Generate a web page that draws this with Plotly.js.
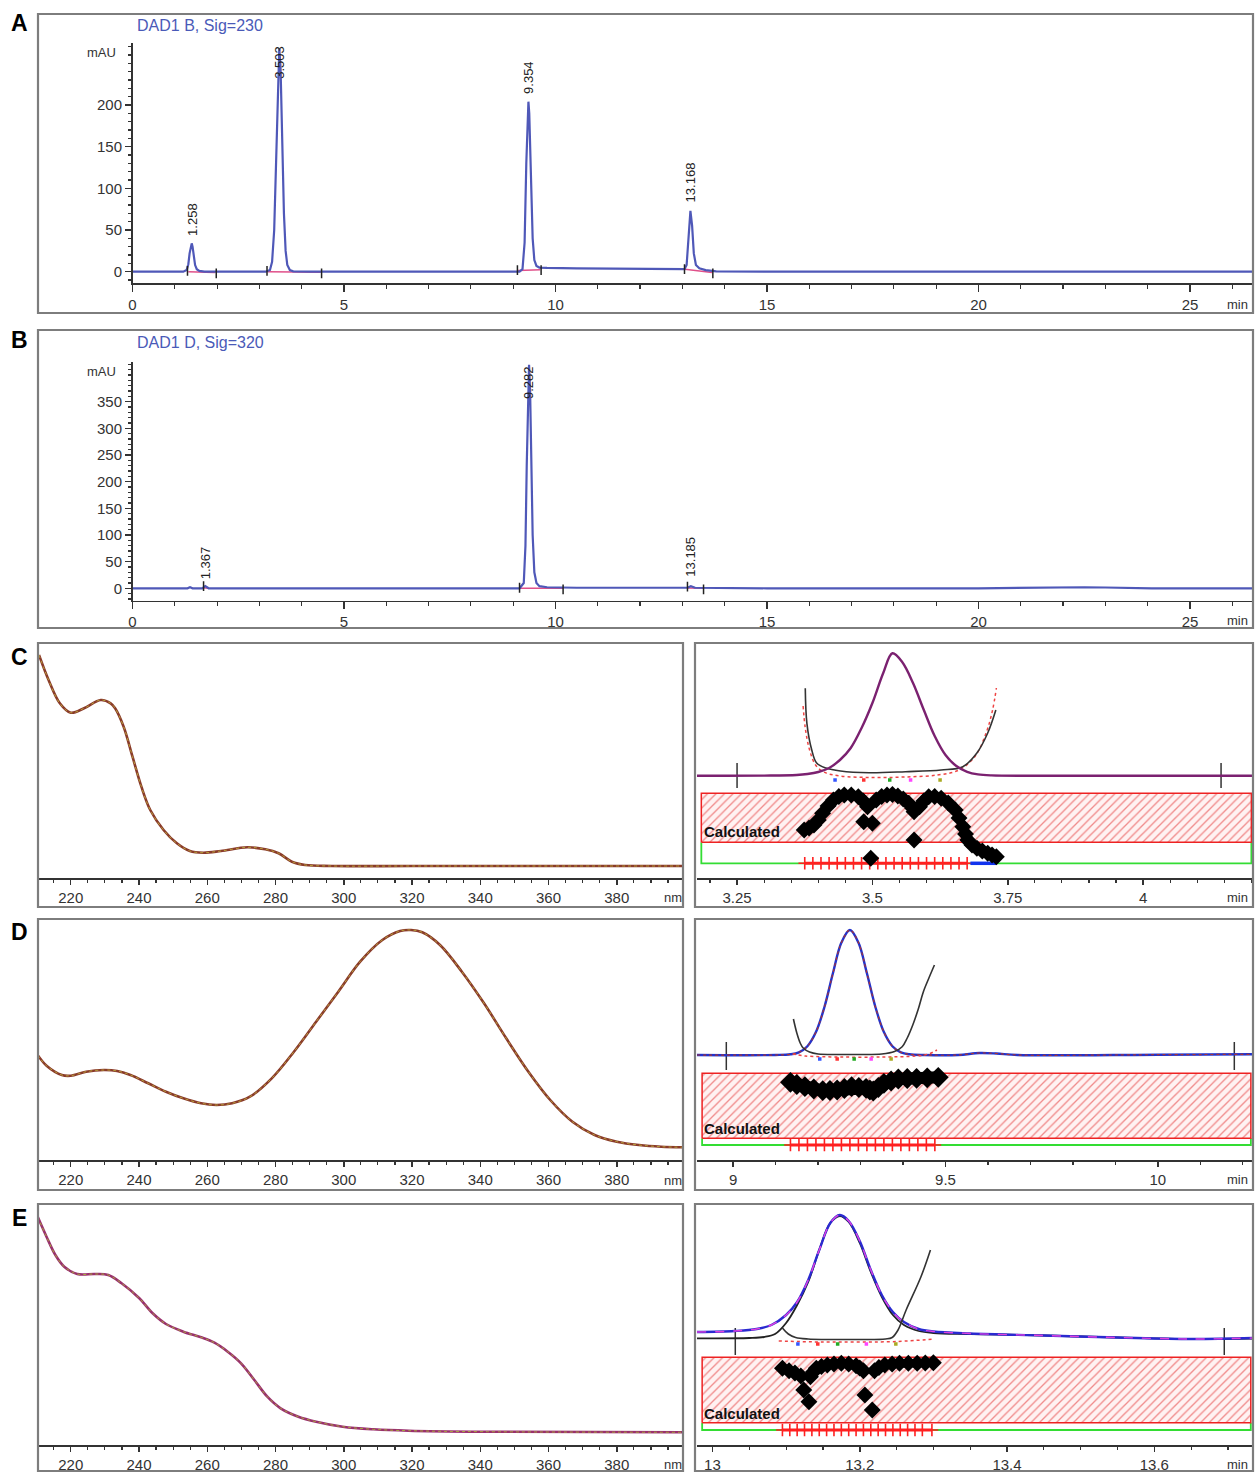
<!DOCTYPE html>
<html><head><meta charset="utf-8">
<script src="https://cdn.plot.ly/plotly-3.0.1.min.js"></script>
<style>html,body{margin:0;padding:0;background:#fff}#chart{width:1255px;height:1472px}</style>
</head><body><div id="chart"></div><script>
// ---------------- DATA ----------------
// Panel A: chromatogram DAD1 B, Sig=230 (time min, mAU)
const timeA = [0,1.20,1.28,1.32,1.35,1.38,1.40,1.42,1.45,1.48,1.52,1.58,1.70,2.5,3.15,3.25,3.30,3.35,3.40,3.44,3.47,3.50,3.54,3.58,3.62,3.66,3.72,3.80,4.2,9.15,9.22,9.27,9.31,9.34,9.36,9.38,9.42,9.46,9.50,9.55,9.62,9.8,10.5,11.5,12.5,13.05,13.10,13.15,13.19,13.23,13.27,13.32,13.40,13.55,13.8,15,20,26.49];
const signalA = [0,0,2,9,22,31,34,30,18,8,3,1,0,0,0,2,12,50,150,240,268,245,160,70,25,8,2,0.5,0,0,3,35,130,195,204,190,110,40,14,7,5,4.5,4,3.5,3,3,8,45,73,55,22,8,4,2,0.5,0,0,0];
const baseTimeA = [1.32,1.95,null,3.20,4.45,null,9.11,9.64,null,13.06,13.70];
const baseValA  = [0,-1,null,0,-0.5,null,1.5,2.5,null,3,-1];
const markTimeA = [1.30,1.98,3.18,4.47,9.10,9.66,13.05,13.72];
const markValA  = [1,-2,1,-2,2,2,3,-2];
const peakTextA = ['1.258','3.503','9.354','13.168'];
const peakTimeA = [1.40,3.47,9.36,13.20];
const peakLblA  = [63,251,233,107];
// Panel B: chromatogram DAD1 D, Sig=320
const timeB = [0,1.30,1.36,1.42,1.65,1.72,1.80,9.15,9.25,9.29,9.32,9.35,9.375,9.40,9.43,9.46,9.50,9.55,9.62,9.8,10.5,13.0,13.12,13.2,13.3,15,16,17,20,21,22,22.5,23,23.8,24.1,26.49];
const signalB = [0,0,2,0,0,4,0,0,10,80,230,380,419,370,230,100,30,10,4,2,1,1,1,4,1,0,0.5,0,0,1,1.5,2,1.5,1,0,0];
const baseTimeB = [1.66,1.80,null,9.16,10.18,null,13.12,13.50];
const baseValB  = [1,0,null,0,0,null,0.5,0];
const markTimeB = [1.68,9.15,10.18,13.12,13.50];
const markValB  = [4,1,-2,3,-2];
const peakTextB = ['1.367','9.282','13.185'];
const peakTimeB = [1.715,9.375,13.2];
const peakLblB  = [47,385,59];
// Spectra (wavelength nm, relative absorbance)
const wlC  = [210.7,213.5,216.8,220,223.9,228.8,231.7,233,235.5,238.1,240.7,243.3,247.2,251.1,254.9,258.8,264,271.8,277,280.9,284.8,288.7,296.5,320,360,399.4];
const absC = [223,198,174.7,165.3,169.7,178,174.7,169.7,151.3,121.3,91.3,68,48,34.7,27,25.3,27,30.7,28.7,24.7,16.3,13,12,12,12,12];
const wlD  = [210.3,213,217.4,220,224.5,229.7,233.6,237.5,242.7,247.9,253,258.2,262.7,267.3,272.5,278.9,285.4,291.9,298.4,304.8,311.3,316.5,319.7,323,328.2,334.6,341.1,347.6,354.1,360.5,367,373.5,380,386.5,393,399.4];
const absD = [105,94,85,84.3,88.3,90,89,85,76.7,68.3,61.7,56.7,55,56.7,63.3,81.7,108.3,138.3,168.3,198.3,220,229,230,227.7,215,188.3,156.7,121.7,88.3,60,38.3,25,18.3,15,13.3,12.7];
const wlE  = [210.3,212.9,215.5,218.1,221.9,227.1,231,234.9,240.1,244,247.9,253,258.2,262.1,266,269.9,273.8,277.6,281.5,286.7,291.9,299.7,308.7,319,341,399.4];
const absE = [228.3,208.3,190,178.3,171,171,170,161.7,146.7,131.7,121,113.3,107.7,102.3,93.3,81.7,65,48.3,36.7,28.3,23.3,18.3,15.7,14.3,13.3,12.7];
// Panel C right: peak purity around 3.5 min
const tSigC = [3.176,3.30,3.36,3.38,3.40,3.42,3.44,3.46,3.48,3.50,3.52,3.537,3.555,3.575,3.595,3.615,3.635,3.655,3.675,3.695,3.72,3.80,4.00,4.203];
const vSigC = [102.3,102.4,103,104,106,110,118,130,150,175,205,224.7,216,195,168,142,123,112,106.2,103.6,102.6,102.3,102.3,102.3];
const tFitC = [3.376,3.379,3.388,3.397,3.414,3.441,3.494,3.561,3.627,3.667,3.693,3.713,3.728];
const vFitC = [189.7,154.7,128,115,110,107,105.3,106.3,108,111.3,125,145,168];
const tResC = [3.372,3.376,3.384,3.395,3.41,3.44,3.50,3.56,3.62,3.66,3.69,3.71,3.722,3.729];
const vResC = [172,150,128,113,106,102,100.5,101,103,108,122,145,168,190];
const tPurC = [3.374,3.383,3.392,3.400,3.408,3.418,3.428,3.438,3.448,3.461,3.474,3.483,3.491,null,3.507,3.517,3.527,3.537,3.547,3.557,3.567,3.574,3.577,null,3.587,3.595,3.604,3.615,3.627,3.640,3.653,3.660,3.667,3.672,3.676,3.684,3.693,3.703,3.713,3.721,3.729];
const vPurC = [48,50,53,58,64.7,72,78,81.5,83,83,81.3,77,71.3,null,78,81.5,83,83.5,82,79,74.7,70,66.3,null,71.3,77,81.3,81.5,79.7,75,68,60,51.3,44,38,33,29.7,27,24.7,23,21.3];
const tOutC = [3.484,3.500,3.497,3.577];
const vOutC = [56.3,54.7,19.7,38];
const tCrossC = [3.375,3.39,3.405,3.42,3.435,3.45,3.465,3.48,3.495,3.51,3.525,3.54,3.555,3.57,3.585,3.60,3.615,3.63,3.645,3.66,3.675];
const tBlueC = [3.681,3.729];
const tDotC = [3.431,3.484,3.532,3.5705,3.625];
const tIntC = [3.25,4.144];
const bandXC = [3.184,4.200];
const calcBandC = [35.7,84.7];
const limitBandC = [14.7,35.7];
// Panel D right: around 9.3 min
const tSigD = [8.915,9.10,9.135,9.155,9.175,9.195,9.215,9.235,9.255,9.275,9.295,9.315,9.335,9.355,9.375,9.395,9.415,9.45,9.53,9.58,9.62,9.67,10.0,10.224];
const vSigD = [105,105,105.7,107.7,113.8,127.9,153,186.7,217.4,230,217.4,186.7,153,127.9,113.8,107.7,105.7,105,105,107,106.5,105,105.3,105.7];
const tFitD = [9.142,9.150,9.158,9.165,9.18,9.20,9.25,9.30,9.35,9.38,9.398,9.41,9.423,9.436,9.448,9.461,9.474];
const vFitD = [141,127,117,112,108,106,105.5,105.5,106,108.5,113.3,122,135,151,168.3,182,195];
const tResD = [9.14,9.17,9.25,9.35,9.43,9.46,9.48];
const vResD = [106,104,103,103,104,106,110];
const tPurD = [9.135,9.15,9.169,9.19,9.211,9.228,9.245,9.262,9.279,9.296,9.313,9.322,9.330,9.342,9.355,9.372,9.389,9.41,9.432,9.457,9.483];
const vPurD = [77.7,75.5,73.3,71,69.3,69.5,70,71.5,73.3,72.5,71.7,70,69,72.5,76.7,79,81,81.5,81.7,82.2,82.7];
const tCrossD = [9.135,9.155,9.175,9.195,9.215,9.235,9.255,9.275,9.295,9.315,9.335,9.355,9.375,9.395,9.415,9.435,9.455,9.475];
const tDotD = [9.204,9.245,9.285,9.325,9.372];
const tIntD = [8.984,10.18];
const bandXD = [8.927,10.219];
const calcBandD = [21.7,86.7];
const limitBandD = [15,21.7];
// Panel E right: around 13.2 min
const tSigE = [12.979,13.03,13.06,13.08,13.10,13.115,13.13,13.145,13.16,13.173,13.185,13.20,13.215,13.23,13.245,13.26,13.28,13.30,13.35,13.45,13.55,13.65,13.734];
const vSigE = [113,114,116,120,130,143,165,195,222,230,224,204,175,150,133,123,116,113.5,111.5,109.5,107.5,106,107];
const tFitE = [12.979,13.05,13.07,13.085,13.10,13.115,13.13,13.145,13.16,13.173,13.185,13.20,13.215,13.23,13.245,13.26,13.28,13.30,13.35,13.45,13.55,13.65,13.734];
const vFitE = [106.7,107,108,111,122,140,163,195,222,229,223,202,173,148,130,120,114,112,111,109.5,107.5,106,106.5];
const tUE = [13.095,13.103,13.113,13.13,13.2,13.235,13.244,13.252,13.263,13.283,13.296];
const vUE = [117,111,107.5,106,105.5,106,107.5,115,135,168,195];
const tResE = [13.09,13.15,13.25,13.30];
const vResE = [104,103,103.5,106];
const tPurE = [13.095,13.104,13.112,13.12,null,13.133,13.137,13.141,13.148,13.156,13.165,13.175,13.185,13.195,13.200,13.205,null,13.220,13.226,13.234,13.244,13.254,13.266,13.278,13.289,13.30];
const vPurE = [76.7,74.3,72,69,null,68.3,73,76.7,78.5,80,81,81.7,81,79.3,77,74.3,null,74.3,77.5,80,81,81.7,81.7,81.7,82,82.3];
const tOutE = [13.124,13.131,13.207,13.217];
const vOutE = [55,43.3,50,35];
const tCrossE = [13.095,13.105,13.115,13.125,13.135,13.145,13.155,13.165,13.175,13.185,13.195,13.205,13.215,13.225,13.235,13.245,13.255,13.265,13.275,13.285,13.298];
const tDotE = [13.116,13.143,13.17,13.209,13.249];
const tIntE = [13.031,13.695];
const bandXE = [12.986,13.731];
const calcBandE = [22.3,87.7];
const limitBandE = [15,22.3];
const dotColors = ['#3355ff','#ff3333','#22aa22','#ff44ff','#aaaa22'];

// ---------------- LAYOUT HELPERS ----------------
const W = 1255, H = 1472;
const dx = (a,b) => [a/W, b/W];
const dy = (top,bottom) => [1-bottom/H, 1-top/H];
const px = a => a/W;
const py = b => 1-b/H;
const FONT = 'Liberation Sans, Arial, sans-serif';
const AX = '#333';

function xAxis(domain, range, anchor, extra) {
  return Object.assign({
    domain, range, anchor, showline:true, linecolor:AX, linewidth:1.5,
    ticks:'outside', ticklen:5, tickwidth:1.5, tickcolor:AX,
    tickfont:{size:15, color:AX, family:FONT}, ticklabelstandoff:0,
    showgrid:false, zeroline:false, fixedrange:true
  }, extra);
}
function hiddenY(domain, range, anchor) {
  return {domain, range, anchor, visible:false, showgrid:false, zeroline:false, fixedrange:true};
}

const traces = [];
function ln(xa, ya, x, y, color, width, dash, shape) {
  traces.push({type:'scatter', mode:'lines', xaxis:xa, yaxis:ya, x, y,
    line:{color, width, dash:dash||'solid', shape:shape||'linear'}, hoverinfo:'skip', connectgaps:false});
}

// Chromatograms
ln('x','y', baseTimeA, baseValA, '#e0508a', 1.5);
ln('x','y', timeA, signalA, '#4f58b8', 2.2);
traces.push({type:'scatter', mode:'markers', xaxis:'x', yaxis:'y', x:markTimeA, y:markValA,
  marker:{symbol:'line-ns', size:7, line:{color:'#222', width:1.5}}, hoverinfo:'skip'});
ln('x2','y2', baseTimeB, baseValB, '#e0508a', 1.5);
ln('x2','y2', timeB, signalB, '#4f58b8', 2.2);
traces.push({type:'scatter', mode:'markers', xaxis:'x2', yaxis:'y2', x:markTimeB, y:markValB,
  marker:{symbol:'line-ns', size:7, line:{color:'#222', width:1.5}}, hoverinfo:'skip'});

// Spectra
ln('x3','y3', wlC, absC, '#8a3b2a', 2.6, 'solid', 'spline');
ln('x3','y3', wlC, absC, '#b8a03a', 1, 'dot', 'spline');
ln('x5','y5', wlD, absD, '#8a3b2a', 2.6, 'solid', 'spline');
ln('x5','y5', wlD, absD, '#b8a03a', 1, 'dot', 'spline');
ln('x7','y7', wlE, absE, '#9a2f6e', 2.6, 'solid', 'spline');
ln('x7','y7', wlE, absE, '#a8a83a', 1, 'dot', 'spline');

// Purity panels
function purityPanel(xa, ya, o) {
  const [b0,b1] = o.bandX;
  traces.push({type:'scatter', mode:'lines', xaxis:xa, yaxis:ya,
    x:[b0,b0,b1,b1], y:[o.limit[1],o.limit[0],o.limit[0],o.limit[1]],
    line:{color:'#33dd33', width:1.8}, hoverinfo:'skip'});
  traces.push({type:'scatter', mode:'lines', xaxis:xa, yaxis:ya,
    x:[b0,b1,b1,b0,b0], y:[o.calc[0],o.calc[0],o.calc[1],o.calc[1],o.calc[0]],
    fill:'toself', fillcolor:'rgba(255,235,235,1)',
    fillpattern:{shape:'/', fgcolor:'#f08a8a', bgcolor:'#fff2f2', size:6, solidity:0.22},
    line:{color:'#ee2222', width:1.5}, hoverinfo:'skip'});
  traces.push({type:'scatter', mode:'lines', xaxis:xa, yaxis:ya,
    x:[o.tInt[0],o.tInt[0],null,o.tInt[1],o.tInt[1]], y:[o.intLo,o.intHi,null,o.intLo,o.intHi],
    line:{color:'#333', width:1.5}, hoverinfo:'skip'});
  o.lines.forEach(l => ln(xa, ya, l[0], l[1], l[2], l[3], l[4], l[5]));
  traces.push({type:'scatter', mode:'markers', xaxis:xa, yaxis:ya, x:o.tDot, y:o.tDot.map(()=>o.dotY),
    marker:{symbol:'square', size:3.5, color:dotColors}, hoverinfo:'skip'});
  traces.push({type:'scatter', mode:'lines+markers', xaxis:xa, yaxis:ya, x:o.tCross, y:o.tCross.map(()=>o.limit[0]),
    line:{color:'#ff2020', width:3}, marker:{symbol:'cross-thin', size:9, line:{color:'#ff2020', width:1.6}}, hoverinfo:'skip'});
  if (o.tBlue) ln(xa, ya, o.tBlue, o.tBlue.map(()=>o.limit[0]), '#1133ee', 3.5);
  traces.push({type:'scatter', mode:'lines+markers', xaxis:xa, yaxis:ya, x:o.tPur, y:o.vPur,
    line:{color:'#000', width:o.pw}, marker:{symbol:'diamond', size:o.ms, color:'#000'}, connectgaps:false, hoverinfo:'skip'});
  if (o.tOut) traces.push({type:'scatter', mode:'markers', xaxis:xa, yaxis:ya, x:o.tOut, y:o.vOut,
    marker:{symbol:'diamond', size:o.ms, color:'#000'}, hoverinfo:'skip'});
}

purityPanel('x4','y4', {bandX:bandXC, calc:calcBandC, limit:limitBandC, tInt:tIntC, intLo:90, intHi:115,
  lines:[[tResC,vResC,'#ee4444',1.5,'dot','spline'],[tFitC,vFitC,'#333',1.6,'solid','spline'],[tSigC,vSigC,'#7b2170',2.4,'solid','spline']],
  tDot:tDotC, dotY:98, tCross:tCrossC, tBlue:tBlueC, tPur:tPurC, vPur:vPurC, tOut:tOutC, vOut:vOutC, pw:8, ms:13});
purityPanel('x6','y6', {bandX:bandXD, calc:calcBandD, limit:limitBandD, tInt:tIntD, intLo:90, intHi:118,
  lines:[[tSigD,vSigD,'#2233cc',2.4,'solid','spline'],[tSigD,vSigD,'#aa3333',1.2,'dot','spline'],[tResD,vResD,'#ee4444',1.5,'dot','spline'],[tFitD,vFitD,'#333',1.6,'solid','spline']],
  tDot:tDotD, dotY:101, tCross:tCrossD, tPur:tPurD, vPur:vPurD, pw:12, ms:16});
purityPanel('x8','y8', {bandX:bandXE, calc:calcBandE, limit:limitBandE, tInt:tIntE, intLo:90, intHi:117,
  lines:[[tFitE,vFitE,'#222',1.8,'solid','spline'],[tSigE,vSigE,'#2a2ad0',2.4,'solid','spline'],[tSigE,vSigE,'#e040e0',1.4,'dash','spline'],[tResE,vResE,'#ee4444',1.5,'dot','spline'],[tUE,vUE,'#333',1.6,'solid','spline']],
  tDot:tDotE, dotY:101, tCross:tCrossE, tPur:tPurE, vPur:vPurE, tOut:tOutE, vOut:vOutE, pw:8, ms:13});

// ---------------- AXES ----------------
const chromX = {dtick:5, tick0:0, ticklen:7, ticklabelstandoff:0,
  minor:{tickmode:'linear', tick0:0, dtick:1, ticks:'outside', ticklen:4, tickcolor:AX, tickwidth:1.2}};
const specX = {tickmode:'array', tickvals:[220,240,260,280,300,320,340,360,380],
  minor:{tickmode:'linear', tick0:210, dtick:5, ticks:'outside', ticklen:3, tickcolor:AX, tickwidth:1.2}};

const layout = {
  width:W, height:H, margin:{l:0,r:0,t:0,b:0}, paper_bgcolor:'#fff', plot_bgcolor:'rgba(0,0,0,0)',
  showlegend:false, font:{family:FONT, color:AX},
  xaxis: xAxis(dx(132.5,1253), [0,26.49], 'y', chromX),
  yaxis: {domain:dy(43,283.3), range:[-13.9,274.4], anchor:'x', showline:true, linecolor:AX, linewidth:1.5,
    ticks:'outside', ticklen:6, tickwidth:1.5, tickcolor:AX, tickmode:'array', tickvals:[0,50,100,150,200],
    minor:{tickmode:'linear', tick0:0, dtick:10, ticks:'outside', ticklen:3, tickcolor:AX},
    tickfont:{size:15, color:AX, family:FONT}, showgrid:false, zeroline:false, fixedrange:true},
  xaxis2: xAxis(dx(132.5,1253), [0,26.49], 'y2', chromX),
  yaxis2: {domain:dy(362,600.7), range:[-23.25,424.3], anchor:'x2', showline:true, linecolor:AX, linewidth:1.5,
    ticks:'outside', ticklen:6, tickwidth:1.5, tickcolor:AX, tickmode:'array', tickvals:[0,50,100,150,200,250,300,350],
    minor:{tickmode:'linear', tick0:0, dtick:10, ticks:'outside', ticklen:3, tickcolor:AX},
    tickfont:{size:15, color:AX, family:FONT}, showgrid:false, zeroline:false, fixedrange:true},
  xaxis3: xAxis(dx(39,683), [210.7,399.4], 'y3', specX),
  yaxis3: hiddenY(dy(643,878), [0,235], 'x3'),
  xaxis4: xAxis(dx(697,1253), [3.176,4.203], 'y4', {tickmode:'array', tickvals:[3.25,3.5,3.75,4], ticktext:['3.25','3.5','3.75','4'],
    minor:{tickmode:'linear', tick0:3.25, dtick:0.05, ticks:'outside', ticklen:3, tickcolor:AX, tickwidth:1.2}}),
  yaxis4: hiddenY(dy(643,878), [0,235], 'x4'),
  xaxis5: xAxis(dx(39,683), [210.7,399.4], 'y5', specX),
  yaxis5: hiddenY(dy(920,1160), [0,240], 'x5'),
  xaxis6: xAxis(dx(697,1253), [8.915,10.224], 'y6', {tickmode:'array', tickvals:[9,9.5,10], ticktext:['9','9.5','10'],
    minor:{tickmode:'linear', tick0:9, dtick:0.1, ticks:'outside', ticklen:3, tickcolor:AX, tickwidth:1.2}}),
  yaxis6: hiddenY(dy(920,1160), [0,240], 'x6'),
  xaxis7: xAxis(dx(39,683), [210.7,399.4], 'y7', specX),
  yaxis7: hiddenY(dy(1205,1445), [0,240], 'x7'),
  xaxis8: xAxis(dx(697,1253), [12.979,13.734], 'y8', {tickmode:'array', tickvals:[13,13.2,13.4,13.6], ticktext:['13','13.2','13.4','13.6'],
    minor:{tickmode:'linear', tick0:13, dtick:0.05, ticks:'outside', ticklen:3, tickcolor:AX, tickwidth:1.2}}),
  yaxis8: hiddenY(dy(1205,1445), [0,240], 'x8'),
  shapes: [], annotations: []
};

// frames
[[38,14,1253,313],[38,330,1253,628],[38,643,683,907],[695,643,1253,907],
 [38,919,683,1190],[695,919,1253,1190],[38,1204,683,1471],[695,1204,1253,1471]].forEach(f => {
  layout.shapes.push({type:'rect', xref:'paper', yref:'paper', x0:px(f[0]), x1:px(f[2]), y0:py(f[3]), y1:py(f[1]),
    line:{color:'#7d7d7d', width:2.2}, fillcolor:'rgba(0,0,0,0)', layer:'above'});
});

function ann(x, y, text, opts) {
  layout.annotations.push(Object.assign({xref:'paper', yref:'paper', x:px(x), y:py(y), text, showarrow:false,
    xanchor:'left', yanchor:'middle', font:{family:FONT, size:13, color:AX}}, opts));
}
[['A',23],['B',340],['C',657],['D',932],['E',1218]].forEach(l =>
  ann(19, l[1], '<b>'+l[0]+'</b>', {xanchor:'center', font:{family:FONT, size:23, color:'#000'}}));
ann(135, 25, 'DAD1 B, Sig=230', {font:{family:FONT, size:16, color:'#4a5ab8'}});
ann(135, 342, 'DAD1 D, Sig=320', {font:{family:FONT, size:16, color:'#4a5ab8'}});
ann(118, 53, 'mAU', {xanchor:'right', font:{family:FONT, size:13, color:AX}});
ann(118, 371, 'mAU', {xanchor:'right', font:{family:FONT, size:13, color:AX}});
ann(1250, 304, 'min', {xanchor:'right'}); ann(1250, 620, 'min', {xanchor:'right'});
ann(1250, 897, 'min', {xanchor:'right'}); ann(1250, 1179, 'min', {xanchor:'right'}); ann(1250, 1464, 'min', {xanchor:'right'});
ann(662, 897, 'nm'); ann(662, 1180, 'nm'); ann(662, 1464, 'nm');
ann(702, 832, '<b>Calculated</b>', {font:{family:FONT, size:15, color:'#111'}});
ann(702, 1128, '<b>Calculated</b>', {font:{family:FONT, size:15, color:'#111'}});
ann(702, 1413, '<b>Calculated</b>', {font:{family:FONT, size:15, color:'#111'}});
peakTextA.forEach((t,i) => layout.annotations.push({xref:'x', yref:'y', x:peakTimeA[i], y:peakLblA[i], text:t,
  textangle:-90, showarrow:false, xanchor:'center', yanchor:'middle', font:{family:FONT, size:13, color:'#222'}}));
peakTextB.forEach((t,i) => layout.annotations.push({xref:'x2', yref:'y2', x:peakTimeB[i], y:peakLblB[i], text:t,
  textangle:-90, showarrow:false, xanchor:'center', yanchor:'middle', font:{family:FONT, size:13, color:'#222'}}));

Plotly.newPlot('chart', traces, layout, {staticPlot:true, displayModeBar:false});
</script></body></html>
